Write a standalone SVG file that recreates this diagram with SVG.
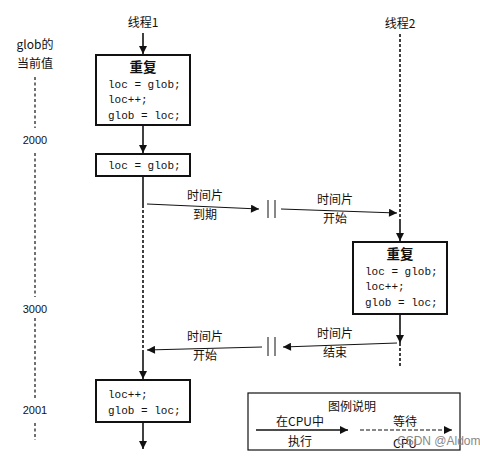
<svg xmlns="http://www.w3.org/2000/svg" width="480" height="460" viewBox="0 0 480 460">
<defs>
<marker id="ah" viewBox="0 0 10 10" refX="10" refY="5" markerWidth="10" markerHeight="8" markerUnits="userSpaceOnUse" orient="auto">
<path d="M0,0 L10,5 L0,10 z" fill="#111"/>
</marker>
</defs>
<style>
.box{fill:#fff;stroke:#111;stroke-width:2}
.cn{font-family:"Noto Sans CJK SC","Liberation Serif",serif;font-size:12px;fill:#111;text-anchor:middle}
.cnb{font-family:"Noto Sans CJK SC",serif;font-size:13.5px;font-weight:bold;fill:#111;text-anchor:middle}
.code{font-family:"Liberation Mono","DejaVu Sans Mono",monospace;font-size:11px;fill:#111}
.num{font-family:"Liberation Sans",Arial,sans-serif;font-size:11px;fill:#111;text-anchor:middle}
.solid{stroke:#111;stroke-width:1.6;fill:none}
.dash{stroke:#111;stroke-width:1.6;fill:none;stroke-dasharray:3,2}
.thin{stroke:#111;stroke-width:1;fill:none}
.thindash{stroke:#111;stroke-width:1.2;fill:none;stroke-dasharray:4,2}
.axis{stroke:#111;stroke-width:1.2;fill:none;stroke-dasharray:3,2.5}
</style>
<rect width="480" height="460" fill="#fff"/>

<g id="axis">
<text class="cn" x="35" y="49">glob的</text>
<text class="cn" x="35" y="68">当前值</text>
<line class="axis" x1="35" y1="77" x2="35" y2="128"/>
<text class="num" x="35" y="144">2000</text>
<line class="axis" x1="35" y1="153" x2="35" y2="297"/>
<text class="num" x="35" y="313">3000</text>
<line class="axis" x1="35" y1="318" x2="35" y2="398"/>
<text class="num" x="35" y="414">2001</text>
<line class="axis" x1="35" y1="423" x2="35" y2="440"/>
</g>

<g id="thread1-label"><text class="cn" x="143" y="27">线程1</text></g>
<g id="thread2-label"><text class="cn" x="400" y="28">线程2</text></g>

<g id="box1">
<rect class="box" x="96" y="55" width="94" height="70"/>
<text class="cnb" x="143" y="72">重复</text>
<text class="code" x="108" y="88">loc = glob;</text>
<text class="code" x="108" y="103">loc++;</text>
<text class="code" x="108" y="119">glob = loc;</text>
</g>

<g id="box2">
<rect class="box" x="96" y="154" width="94" height="22"/>
<text class="code" x="108" y="169">loc = glob;</text>
</g>

<g id="box3">
<rect class="box" x="353" y="242" width="94" height="72"/>
<text class="cnb" x="400" y="259">重复</text>
<text class="code" x="365" y="275">loc = glob;</text>
<text class="code" x="365" y="290">loc++;</text>
<text class="code" x="365" y="306">glob = loc;</text>
</g>

<g id="box4">
<rect class="box" x="96" y="380" width="94" height="42"/>
<text class="code" x="108" y="398">loc++;</text>
<text class="code" x="108" y="414">glob = loc;</text>
</g>

<g id="connectors">
<line class="solid" x1="143" y1="33" x2="143" y2="54" marker-end="url(#ah)"/>
<line class="solid" x1="143" y1="125" x2="143" y2="153" marker-end="url(#ah)"/>
<line class="solid" x1="143" y1="176" x2="143" y2="205"/>
<line class="dash" x1="143" y1="205" x2="143" y2="352"/>
<line class="solid" x1="143" y1="352" x2="143" y2="379" marker-end="url(#ah)"/>
<line class="solid" x1="143" y1="422" x2="143" y2="449" marker-end="url(#ah)"/>

<line class="dash" x1="400" y1="34" x2="400" y2="222"/>
<line class="solid" x1="400" y1="222" x2="400" y2="241" marker-end="url(#ah)"/>
<line class="solid" x1="400" y1="314" x2="400" y2="343" marker-end="url(#ah)"/>
<line class="dash" x1="400" y1="343" x2="400" y2="366"/>

<line class="thin" x1="147" y1="204" x2="259" y2="209" marker-end="url(#ah)"/>
<line class="thin" x1="268" y1="200" x2="268" y2="218"/>
<line class="thin" x1="275" y1="200" x2="275" y2="218"/>
<line class="thin" x1="281" y1="209" x2="397" y2="213" marker-end="url(#ah)"/>

<line class="thin" x1="397" y1="343" x2="283" y2="347" marker-end="url(#ah)"/>
<line class="thin" x1="268" y1="337" x2="268" y2="356"/>
<line class="thin" x1="275" y1="337" x2="275" y2="356"/>
<line class="thin" x1="262" y1="347" x2="147" y2="350" marker-end="url(#ah)"/>
</g>

<g id="labels">
<text class="cn" x="205" y="200">时间片</text>
<text class="cn" x="205" y="219">到期</text>
<text class="cn" x="335" y="204">时间片</text>
<text class="cn" x="335" y="223">开始</text>
<text class="cn" x="335" y="338">时间片</text>
<text class="cn" x="335" y="357">结束</text>
<text class="cn" x="205" y="341">时间片</text>
<text class="cn" x="205" y="360">开始</text>
</g>

<g id="legend">
<rect x="248" y="393" width="212" height="57" fill="#fff" stroke="#111" stroke-width="1.2"/>
<text class="cn" x="352" y="411">图例说明</text>
<text class="cn" x="300" y="426">在CPU中</text>
<line class="solid" x1="256" y1="430" x2="348" y2="430" marker-end="url(#ah)"/>
<text class="cn" x="300" y="446">执行</text>
<text class="cn" x="405" y="426">等待</text>
<line class="thindash" x1="360" y1="430" x2="452" y2="430" marker-end="url(#ah)"/>
<text class="cn" x="405" y="448">CPU</text>
<text x="397" y="445" font-family="Liberation Sans,Arial,sans-serif" font-size="12" fill="#888">CSDN @Aldom</text>
</g>
</svg>
